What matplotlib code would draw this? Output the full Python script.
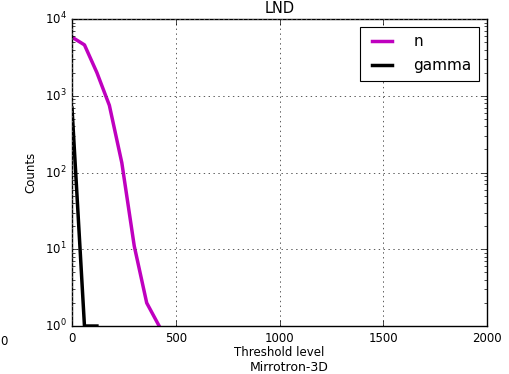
import numpy as np
import matplotlib
matplotlib.use("Agg")
import matplotlib.pyplot as plt

# threshold scan, counts above threshold for each particle type
thresholds_n = [0, 60, 120, 180, 240, 300, 360, 420]
counts_n = [5800, 4600, 2000, 750, 134, 11, 2, 1]
thresholds_gamma = [0, 60, 120]
counts_gamma = [690, 1, 1]

plt.style.use("classic")
plt.rcParams["font.family"] = "DejaVu Sans"

fig = plt.figure(figsize=(5.10, 3.74), dpi=100, facecolor="white")
ax = fig.add_axes([0.1412, 0.1283, 0.8137, 0.8209])

ax.plot(thresholds_n, counts_n, color="m", lw=2.5, label="n")
ax.plot(thresholds_gamma, counts_gamma, color="k", lw=2.5, label="gamma")

ax.set_yscale("log")
ax.set_xlim(0, 2000)
ax.set_ylim(1, 1e4)
ax.set_xticks([0, 500, 1000, 1500, 2000])
ax.grid(True, which="major", linestyle=(0, (1, 2.5)), color="0.35", lw=0.7)
ax.tick_params(labelsize=8.5)

ax.set_xlabel("Threshold level", fontsize=8.5, labelpad=1)
ax.set_ylabel("Counts", fontsize=8.5)
ax.set_title("LND", fontsize=10.5, pad=4)

leg = ax.legend(loc="upper right", fontsize=11, handlelength=1.9,
                borderaxespad=0.5, labelspacing=0.6, handletextpad=1.1,
                borderpad=0.5)
leg.get_frame().set_linewidth(0.8)

# labels from the neighbouring panels of the figure
fig.text(0.001, 0.1283 - 0.025, "0", fontsize=8.5, ha="left", va="top")
fig.text(0.568, 0.0, "Mirrotron-3D", fontsize=9, ha="center", va="bottom")

fig.savefig("out.png", dpi=100, facecolor="white")
